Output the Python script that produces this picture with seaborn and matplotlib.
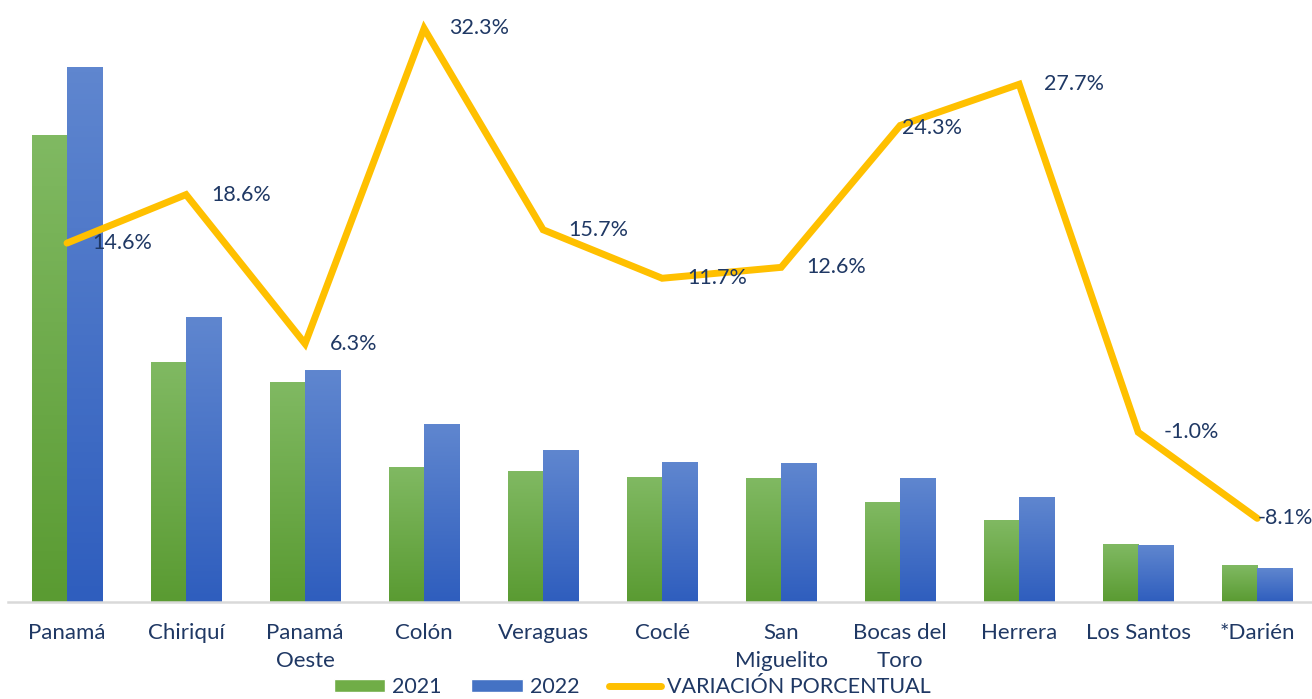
import numpy as np
import pandas as pd
import seaborn as sns
import matplotlib.pyplot as plt
from matplotlib.colors import LinearSegmentedColormap
from matplotlib.patches import Patch
from matplotlib.lines import Line2D

categorias = ["Panamá", "Chiriquí", "Panamá\nOeste", "Colón", "Veraguas", "Coclé",
              "San\nMiguelito", "Bocas del\nToro", "Herrera", "Los Santos", "*Darién"]
valores_2021 = [467, 240, 220, 135, 131, 125, 124, 100, 82, 58, 37]
valores_2022 = [535, 285, 232, 178, 152, 140, 139, 124, 105, 57, 34]
variacion = [14.6, 18.6, 6.3, 32.3, 15.7, 11.7, 12.6, 24.3, 27.7, -1.0, -8.1]

VERDE = "#70AD47"
AZUL = "#4472C4"
AMARILLO = "#FFC000"
TEXTO = "#1F3864"

df = pd.DataFrame({
    "region": categorias * 2,
    "anio": ["2021"] * len(categorias) + ["2022"] * len(categorias),
    "valor": valores_2021 + valores_2022,
})

sns.set_theme(style="white")
plt.rcParams["font.family"] = ["Lato", "DejaVu Sans"]

fig = plt.figure(figsize=(13.12, 6.99), dpi=100)
ax = fig.add_axes([7.5 / 1312, 97 / 699, 1 - 7.5 / 1312, 582 / 699])

sns.barplot(data=df, x="region", y="valor", hue="anio", hue_order=["2021", "2022"],
            palette=[VERDE, AZUL], width=0.59, gap=0, legend=False, ax=ax, zorder=2)

# degradado vertical en las barras (claro arriba, oscuro abajo)
grad = np.linspace(0, 1, 100).reshape(-1, 1)
cmaps = [LinearSegmentedColormap.from_list("g", ["#5A9B32", "#80B962"]),
         LinearSegmentedColormap.from_list("b", ["#2F5EBE", "#5F86CF"])]
for cont, cm in zip(ax.containers, cmaps):
    for bar in cont:
        x0, y0 = bar.get_x(), bar.get_y()
        w, h = bar.get_width(), bar.get_height()
        bar.set_facecolor("none")
        bar.set_edgecolor("none")
        ax.imshow(grad, extent=[x0, x0 + w, y0, y0 + h], origin="lower",
                  aspect="auto", cmap=cm, zorder=2)
ax.set_xlim(-0.5, 10.46)
ax.set_ylim(0, 582)

for s in ["top", "right", "left"]:
    ax.spines[s].set_visible(False)
ax.spines["bottom"].set_color("#D9D9D9")
ax.spines["bottom"].set_linewidth(1.8)
ax.set_yticks([])
ax.set_xlabel("")
ax.set_ylabel("")
ax.tick_params(axis="x", length=0, pad=15, labelsize=16, labelcolor=TEXTO)
for t in ax.get_xticklabels():
    t.set_linespacing(1.5)
    t.set_verticalalignment("top")

ax2 = ax.twinx()
ax2.plot(range(len(categorias)), variacion, color=AMARILLO, lw=5,
         solid_joinstyle="miter", zorder=3)
ax2.set_ylim(-15, 33)
ax2.set_yticks([])
for s in ax2.spines.values():
    s.set_visible(False)

desplaz = [18] * len(variacion)
desplaz[7] = 1
desplaz[10] = 0
for i, v in enumerate(variacion):
    dy = -2 if i == 7 else 0
    ax2.annotate(f"{v:.1f}%", (i, v), xytext=(desplaz[i], dy), textcoords="offset points",
                 ha="left", va="center", fontsize=15.5, color=TEXTO, zorder=4)

handles = [Patch(facecolor=VERDE), Patch(facecolor=AZUL),
           Line2D([0], [0], color=AMARILLO, lw=5, solid_capstyle="round")]
fig.legend(handles, ["2021", "2022", "VARIACIÓN PORCENTUAL"], loc="center",
           bbox_to_anchor=(0.482, 12 / 699), ncol=3, frameon=False, fontsize=15.5,
           handlelength=2.4, handleheight=0.6, handletextpad=0.3, columnspacing=1.4,
           borderpad=0, labelcolor=TEXTO)

fig.savefig("out.png", dpi=100)
